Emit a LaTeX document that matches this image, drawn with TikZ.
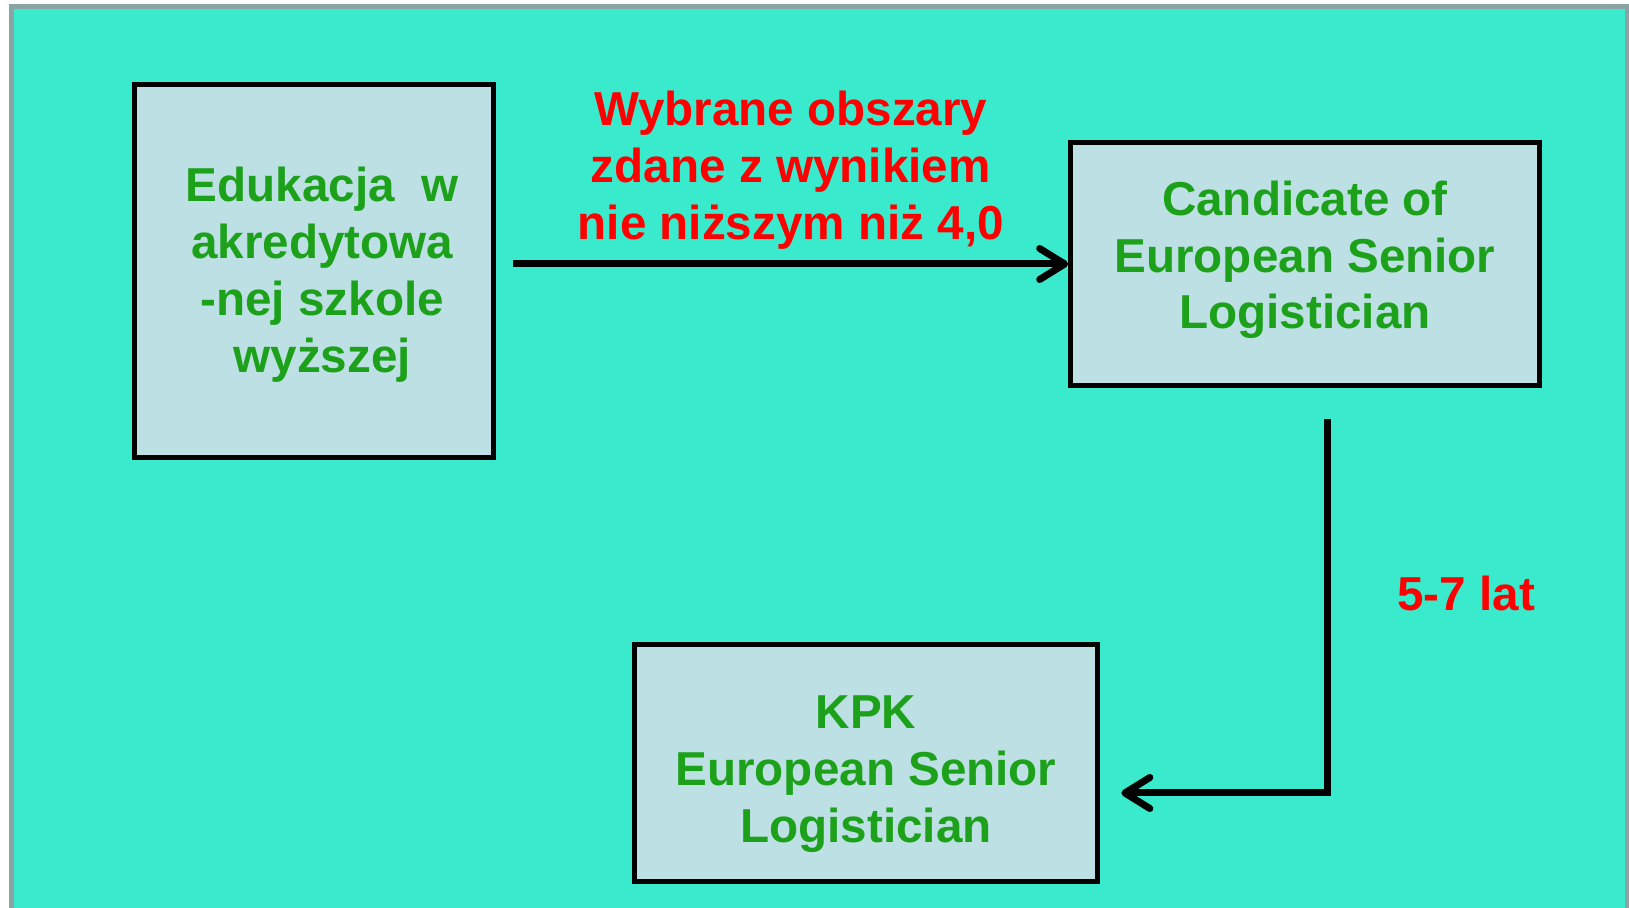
\documentclass[tikz,border=0pt]{standalone}
\usepackage{fontspec}
\setmainfont{Liberation Sans}
\usetikzlibrary{positioning, arrows.meta, calc}
\definecolor{slide}{RGB}{58,234,204}
\definecolor{frame}{RGB}{138,163,163}
\definecolor{boxfill}{RGB}{188,224,227}
\definecolor{labgreen}{RGB}{29,161,26}
\definecolor{labred}{RGB}{255,0,0}

\begin{document}
\begin{tikzpicture} [on grid,
  box/.style = {draw=black, line width=0.094cm, fill=boxfill, align=center, text=labgreen,
    font=\bfseries\fontsize{27.1pt}{32.4pt}\selectfont},
  arr/.style = {line width=0.14cm, -{Straight Barb[length=0.5cm, width=0.62cm, round]}},
  lab/.style = {text=labred, align=center, inner sep=0pt,
    font=\bfseries\fontsize{27.1pt}{32.4pt}\selectfont}]
\useasboundingbox (0,0) rectangle (32.58,18.16);
\fill [white] (0,0) rectangle (32.58,18.16);
\filldraw [fill=slide, draw=frame, line width=0.1cm] (0.23,-0.5) rectangle (32.55,18.03);
\node (edu) [box, minimum width=7.18cm, minimum height=7.46cm] at (6.28,12.74)
    {\hspace*{0.33cm}\rule{0pt}{23.5pt}Edukacja~~w\\\hspace*{0.33cm}akredytowa\\
     \hspace*{0.33cm}-nej szkole\\\hspace*{0.33cm}wyższej};
\node (cand) [box, minimum width=9.38cm, minimum height=4.86cm, above right = 0.14cm and 19.82cm of edu]
    {Candicate of\\European Senior\\Logistician\rule[-10.5pt]{0pt}{0pt}};
\node (kpk) [box, minimum width=9.26cm, minimum height=4.74cm, below left = 9.98cm and 8.78cm of cand]
    {\rule{0pt}{31.2pt}KPK\\European Senior\\Logistician};
\coordinate (start) at ($(edu.east |- cand.west)+(0.35,0)$);
\coordinate (drop) at ($(cand.south)+(0.44,-0.63)$);
\coordinate (hit) at ($(kpk.east)+(0.43,-0.6)$);
\draw [arr] (start) -- node [lab, midway, above=0.23cm] {Wybrane obszary\\zdane z wynikiem\\nie niższym niż 4,0} (cand.west);
\draw [arr] (drop) |- node [lab, pos=0.233, right=1.34cm] {5-7 lat} (hit);
\end{tikzpicture}
\end{document}
